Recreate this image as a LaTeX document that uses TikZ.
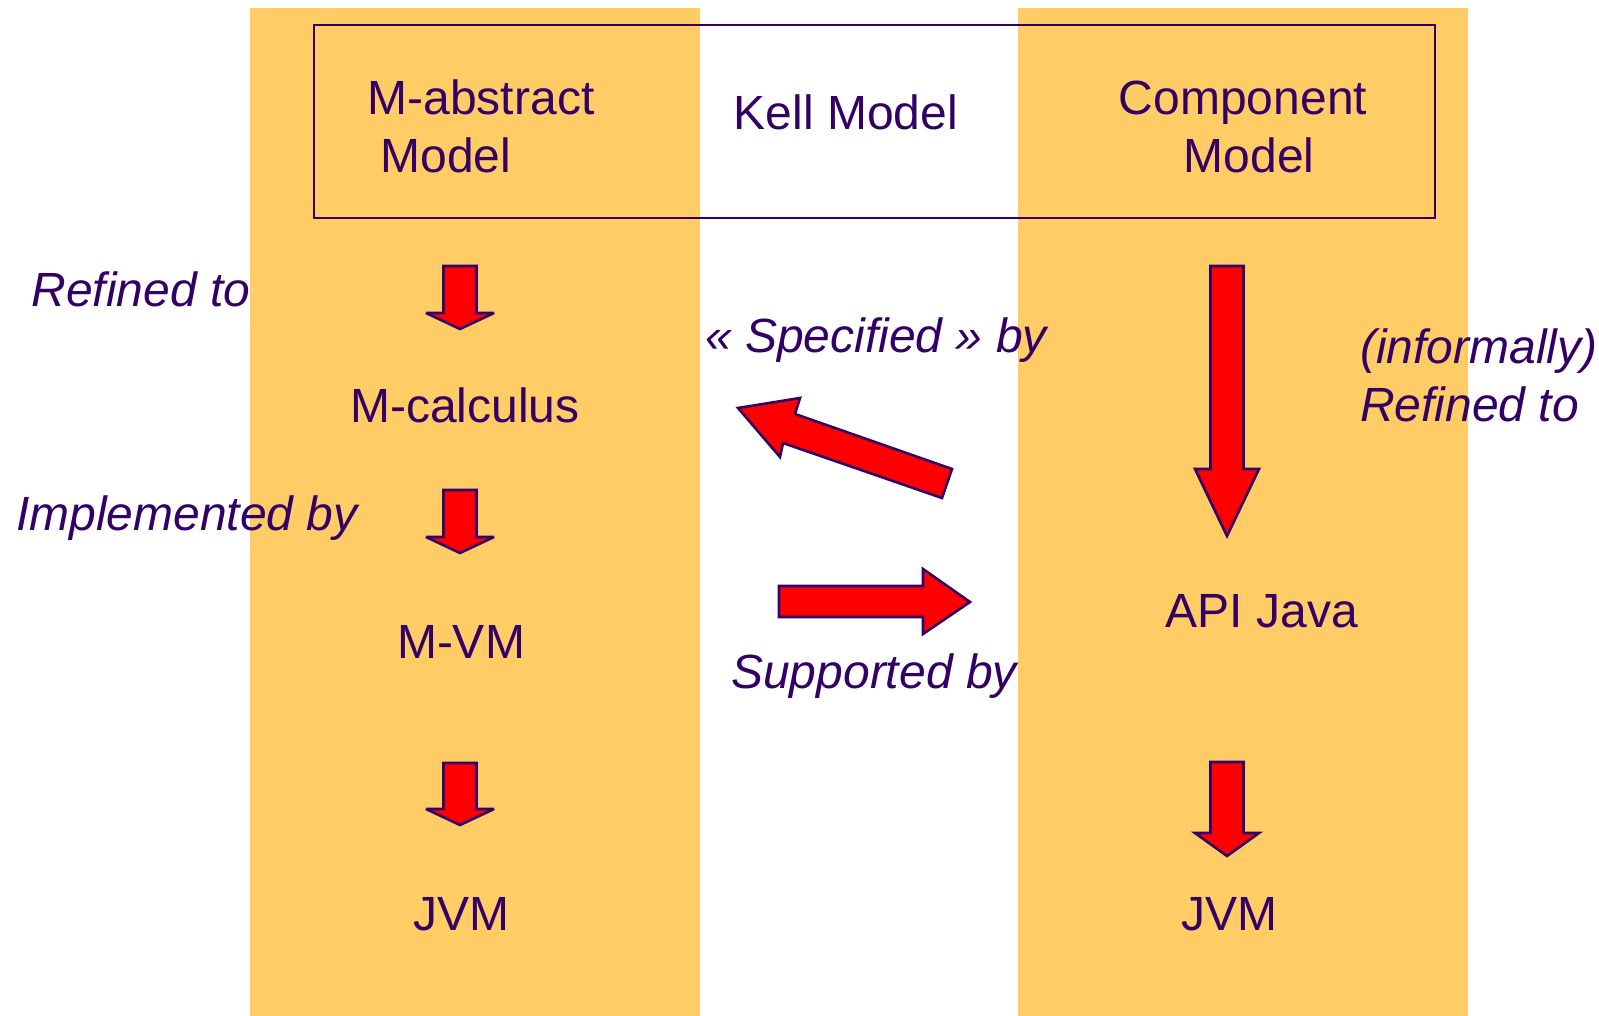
\documentclass[tikz,border=0pt]{standalone}
\usepackage{fontspec}
\setmainfont{Liberation Sans}
\definecolor{band}{HTML}{FFCC66}
\definecolor{ink}{HTML}{330066}
\newcommand\dnarrow[6]{% cx, top, headbase, tip, shaft half, wing half
  \draw[blk] (#1-#5,#2) -- (#1+#5,#2) -- (#1+#5,#3) -- (#1+#6,#3) -- (#1,#4)
    -- (#1-#6,#3) -- (#1-#5,#3) -- cycle;}
\begin{document}
\begin{tikzpicture}[x=1pt,y=-1pt,
  lbl/.style={anchor=base, inner sep=0pt, text=ink, font=\fontsize{48}{58}\selectfont},
  ilbl/.style={anchor=base, inner sep=0pt, text=ink, font=\fontsize{48}{58}\selectfont\itshape},
  ilblw/.style={anchor=base west, inner sep=0pt, text=ink, font=\fontsize{48}{58}\selectfont\itshape},
  blk/.style={fill=red, draw=ink, line width=2.6pt, line join=miter, miter limit=4}]
\useasboundingbox (0,0) rectangle (1599,1016);
% bands
\fill[band] (250,8) rectangle (700,1016);
\fill[band] (1018,8) rectangle (1468,1016);
% Kell box
\node[draw=ink, line width=2pt, minimum width=1121pt, minimum height=193pt, inner sep=0pt] (kellbox) at (874.5,121.5) {};
% texts
\node[lbl] (mabs1) at (481,115) {M-abstract};
\node[lbl] (mabs2) at (446,173) {Model};
\node[lbl] (kell) at (846,130) {Kell Model};
\node[lbl] (comp1) at (1243,115) {Component};
\node[lbl] (comp2) at (1249,173) {Model};
\node[ilbl] (ref1) at (141,307) {Refined to};
\node[lbl] (mcalc) at (465,422) {M-calculus};
\node[ilbl] (impl) at (187,530) {Implemented by};
\node[lbl] (mvm) at (461,658) {M-VM};
\node[lbl] (jvm1) at (461,930) {JVM};
\node[lbl] (api) at (1262,627) {API Java};
\node[lbl] (jvm2) at (1229,930) {JVM};
\node[ilbl] (spec) at (876,353) {« Specified » by};
\node[ilbl] (supp) at (874,688) {Supported by};
\node[ilblw] (inf1) at (1360,363) {(informally)};
\node[ilblw] (inf2) at (1360,421) {Refined to};
% block arrows (left column)
\dnarrow{460}{266}{313}{329}{16.5}{34}
\dnarrow{460}{490}{537}{553}{16.5}{34}
\dnarrow{460}{763}{809}{825}{16.5}{34}
% right column
\dnarrow{1227}{266}{469}{536}{16.5}{32}
\dnarrow{1227}{762}{833}{856}{16.5}{32}
% Specified by arrow
\draw[blk] (738,408) -- (800,398) -- (795,414) -- (952,469) -- (942,498) -- (783,443) -- (780,457) -- cycle;
% Supported by arrow
\draw[blk] (779,586) -- (923,586) -- (923,569) -- (970,602) -- (923,634) -- (923,617) -- (779,617) -- cycle;
\end{tikzpicture}
\end{document}
